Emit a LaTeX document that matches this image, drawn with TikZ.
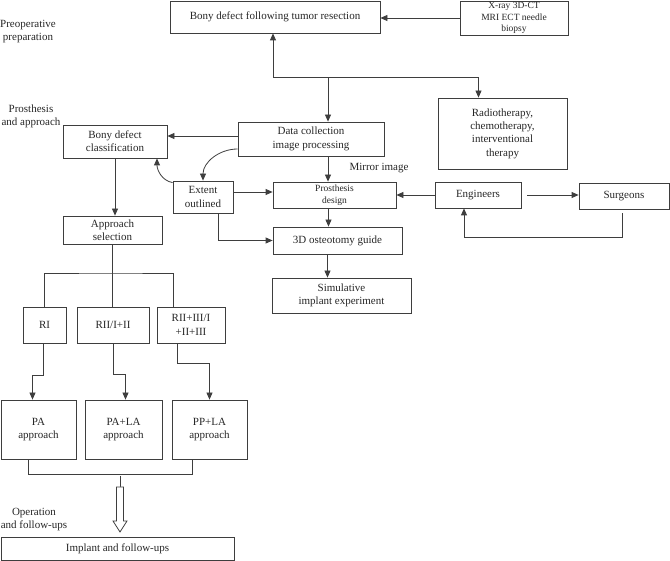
\documentclass[tikz,border=0pt]{standalone}
\usepackage{fontspec}
\setmainfont{Liberation Serif}
\usetikzlibrary{arrows.meta}
\definecolor{ln}{RGB}{62,62,62}
\definecolor{tx}{RGB}{38,38,38}

\begin{document}
\begin{tikzpicture}[x=1pt, y=-1pt, >={Triangle[length=7pt, width=6pt]},
    box/.style={draw=ln, line width=0.8pt, text=tx, align=center, inner sep=1pt, font=\fontsize{11}{13.3}\selectfont},
    small/.style={font=\fontsize{9.5}{11.8}\selectfont},
    phase/.style={text=tx, align=center, font=\fontsize{11}{13}\selectfont},
    link/.style={draw=ln, line width=0.8pt}]
\useasboundingbox (0, 0) rectangle (670, 561);

\node[phase] at (28, 32) (prep) {Preoperative\\ preparation};
\node[phase] at (31, 116) (prosapp) {Prosthesis\\ and approach};
\node[phase] at (34, 520) (opfol) {Operation\\ and follow-ups};

\node[box, minimum width=210pt, minimum height=32pt, font=\fontsize{11}{13}\selectfont] at (275, 17) (resect) {Bony defect following tumor resection};
\node[box, small, minimum width=108pt, minimum height=34pt] at (514, 18) (xray) {X-ray 3D-CT\\ MRI ECT needle\\ biopsy};
\node[box, minimum width=129pt, minimum height=71pt] at (502.5, 133.5) (radio) {Radiotherapy,\\ chemotherapy,\\ interventional\\ therapy};
\node[box, minimum width=146pt, minimum height=34pt] at (311, 139) (data) {Data collection\\ image processing};
\node[box, minimum width=104pt, minimum height=33pt] at (115, 141.5) (classif) {Bony defect\\ classification};
\node[box, minimum width=60pt, minimum height=32pt] at (203, 197) (extent) {Extent\\ outlined};
\node[box, small, minimum width=123pt, minimum height=26pt] at (334.5, 195) (design) {Prosthesis\\ design};
\node[text=tx, anchor=west, font=\fontsize{11}{13}\selectfont] at (346, 168) (mirror) {Mirror image};
\node[box, minimum width=86pt, minimum height=26pt] at (478, 195) (engin) {Engineers};
\node[box, minimum width=90pt, minimum height=26pt] at (624, 196) (surg) {Surgeons};
\node[box, minimum width=129pt, minimum height=27pt] at (337.5, 240.5) (guide) {3D osteotomy guide};
\node[box, minimum width=139pt, minimum height=35pt] at (341.5, 295.5) (simul) {Simulative\\ implant experiment};
\node[box, minimum width=99pt, minimum height=28pt] at (112.5, 230) (apsel) {Approach\\ selection};

\node[box, minimum width=43pt, minimum height=36pt] at (44.5, 325) (ri) {RI};
\node[box, minimum width=72pt, minimum height=36pt] at (113, 325) (rii) {RII/I+II};
\node[box, minimum width=68pt, minimum height=36pt] at (191, 325) (riii) {RII+III/I\\ +II+III};
\node[box, minimum width=75pt, minimum height=59pt] at (38.5, 429.5) (pa) {PA\\ approach};
\node[box, minimum width=77pt, minimum height=59pt] at (123.5, 429.5) (pala) {PA+LA\\ approach};
\node[box, minimum width=75pt, minimum height=59pt] at (209.5, 429.5) (ppla) {PP+LA\\ approach};
\node[box, minimum width=233pt, minimum height=23pt] at (117.5, 548.5) (implant) {Implant and follow-ups};

\coordinate (fork) at (273, 77);
\coordinate (bus) at (112.5, 273);
\coordinate (hollow) at (120, 487);
\coordinate (dataw) at ([yshift=3pt]data.west);
\coordinate (extente) at ([yshift=5pt]extent.east);

\draw[link, ->] (xray.west) -- (resect.east |- xray.west);
\draw[link, ->] (fork) -- (fork |- resect.south);
\draw[link, ->] (fork) -| ([xshift=-24pt]radio.north);
\draw[link, ->] (fork) -| ([xshift=17pt]data.north);
\draw[link, ->] (dataw) -- (classif.east |- dataw);
\draw[link, ->] ([yshift=-10pt]data.west) to[out=180, in=90] (extent.north);
\draw[link, ->] ([yshift=-2pt]extent.north west) to[out=170, in=-90] ([xshift=42pt]classif.south);
\draw[link, ->] ([xshift=17pt]data.south) -- ([xshift=17pt]data.south |- design.north);
\draw[link, ->] (extente) -- (design.west |- extente);
\draw[link, ->] (engin.west) -- (design.east |- engin.west);
\draw[link, ->, shorten <=6pt] (engin.east) -- (surg.west |- engin.east);
\draw[link, ->, shorten <=4pt] ([xshift=-2pt]surg.south) -- ++(0, 28) -| ([xshift=-14pt]engin.south);
\draw[link, ->] ([xshift=-6pt]design.south) -- ([xshift=-6pt]design.south |- guide.north);
\draw[link, ->] ([xshift=15pt]extent.south) |- (guide.west);
\draw[link, ->] ([xshift=-10pt]guide.south) -- ([xshift=-10pt]guide.south |- simul.north);

\draw[link, ->] (classif.south) -- (classif.south |- apsel.north);
\draw[link] (apsel.south) -- (apsel.south |- rii.north);
\draw[link] (ri.north) |- (bus) -| ([xshift=-18pt]riii.north);
\draw[link, ->] ([xshift=-1pt]ri.south) -- ++(0, 32) -| ([xshift=-6pt]pa.north);
\draw[link, ->] (rii.south) -- ++(0, 31) -| ([xshift=2pt]pala.north);
\draw[link, ->] ([xshift=-14pt]riii.south) -- ++(0, 20) -| (ppla.north);
\draw[link] ([xshift=-10pt]pa.south) -- ++(0, 15) -| ([xshift=-17pt]ppla.south);
\draw[link] (hollow) ++(0, -11) -- (hollow);
\draw[link, fill=white] (hollow) ++(-3.5, 0) -- ++(7, 0) -- ++(0, 34) -- ++(3.5, 0) -- ++(-7, 11) -- ++(-7, -11) -- ++(3.5, 0) -- cycle;
\end{tikzpicture}
\end{document}
